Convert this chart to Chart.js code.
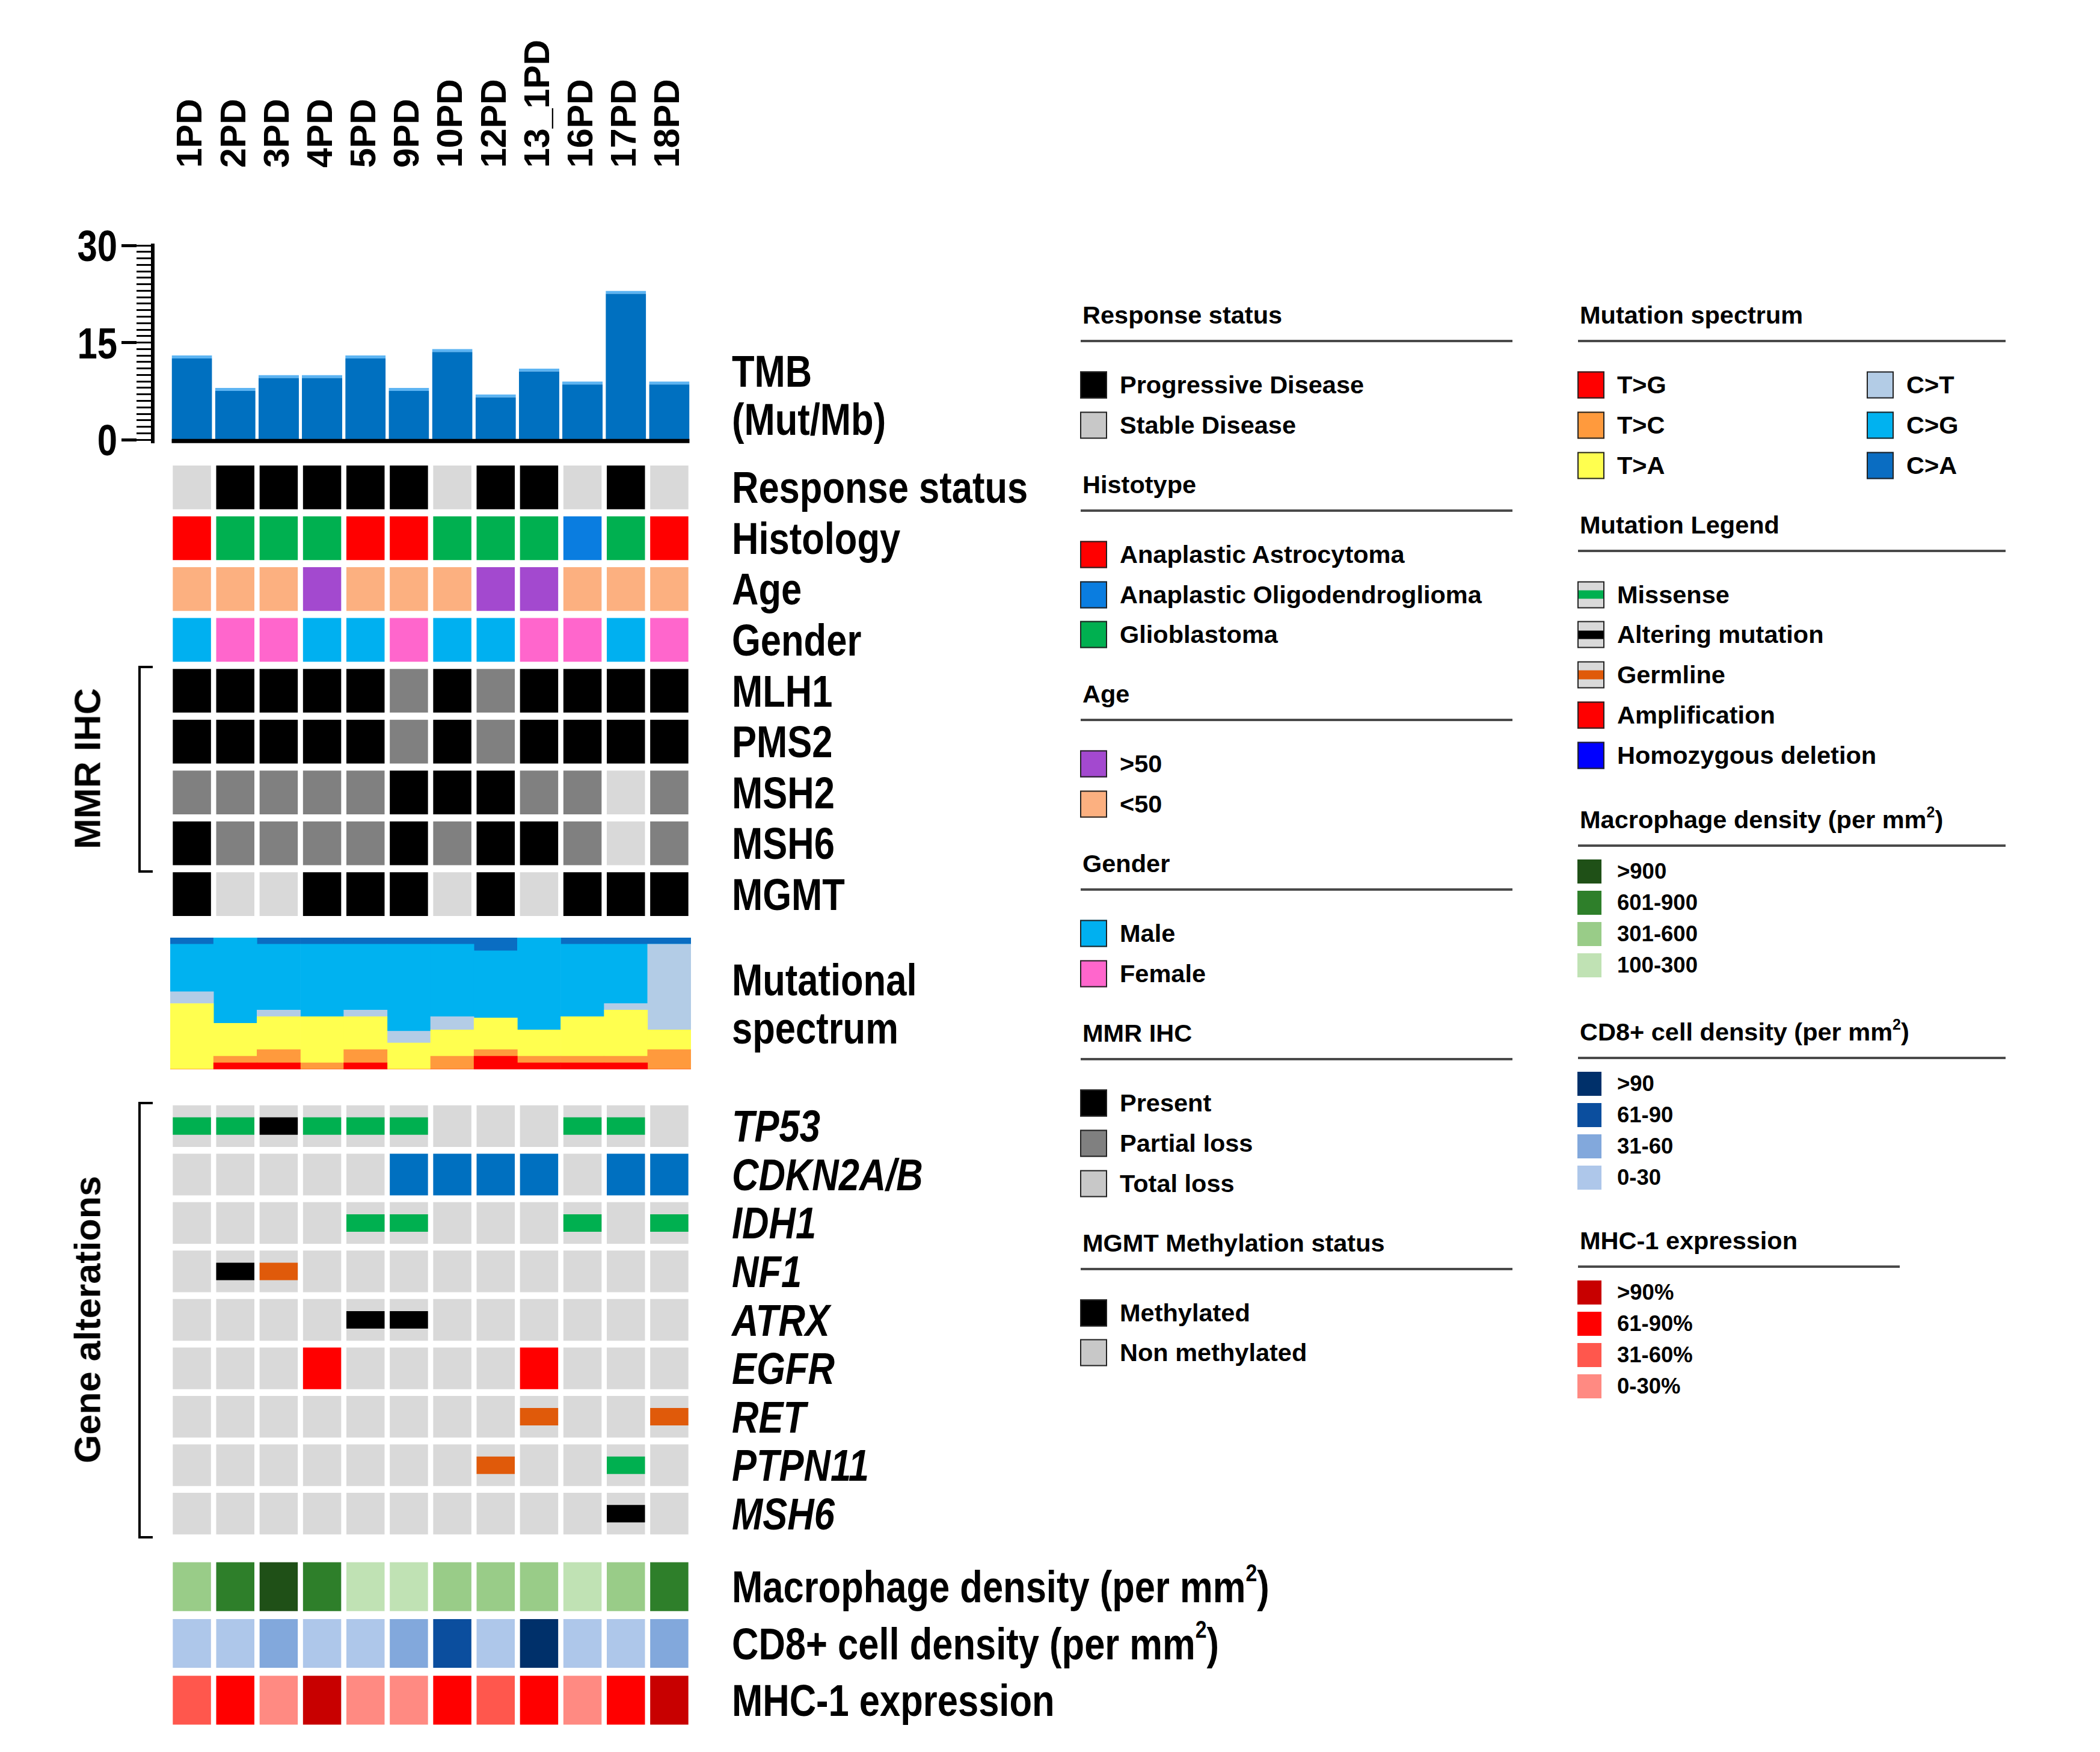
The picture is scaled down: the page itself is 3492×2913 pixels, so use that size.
<!DOCTYPE html>
<html>
<head>
<meta charset="utf-8">
<script src="https://cdn.jsdelivr.net/npm/chart.js@4.4.1/dist/chart.umd.min.js"></script>
<style>
  html, body { margin: 0; padding: 0; background: #fff; }
  body { width: 3492px; height: 2913px; position: relative; overflow: hidden;
         font-family: 'Liberation Sans', Arial, sans-serif; color: #000; }
  canvas { position: absolute; left: 0; }
  .rowlab { position: absolute; font-weight: bold; font-size: 75px; line-height: 1; white-space: nowrap;
            transform: translateY(-50%) scaleX(0.82); transform-origin: 0 50%; }
  .rowlab.it { font-style: italic; }
  .rowlab sup { font-size: 55%; vertical-align: 0; position: relative; top: -0.85em; }
  .ticklab { position: absolute; font-weight: bold; font-size: 73px; line-height: 1; white-space: nowrap;
             transform: translate(-100%, -50%) scaleX(0.82); transform-origin: 100% 50%; }
  .vtitle { position: absolute; font-weight: bold; font-size: 61px; line-height: 1; white-space: nowrap;
            transform: translate(-50%, -50%) rotate(-90deg); }
  .brk { position: absolute; border: 4px solid #000; border-right: none; width: 24px; box-sizing: border-box; }
  .lg { position: absolute; font-weight: bold; font-size: 41.5px; line-height: 1; white-space: nowrap; transform: translateY(-50%); }
  .lg.small { font-size: 36.5px; }
  .lg sup { font-size: 60%; vertical-align: 0; position: relative; top: -0.7em; }
  .lgline { position: absolute; height: 4px; background: #4a4a4a; }
  .sw { position: absolute; width: 45px; height: 45px; border: 2px solid #222; box-sizing: border-box;
        transform: translateY(-50%); overflow: hidden; }
  .sw.flat { width: 40px; height: 40px; border: none; }
  .sw .band { position: absolute; left: 0; right: 0; top: 32%; height: 36%; }
</style>
</head>
<body>
<script>
// ---------------------------------------------------------------------------
// Data
// ---------------------------------------------------------------------------
const samples = ['1PD', '2PD', '3PD', '4PD', '5PD', '9PD', '10PD', '12PD', '13_1PD', '16PD', '17PD', '18PD'];

// TMB (Mut/Mb)
const tmb = [13, 8, 10, 10, 13, 8, 14, 7, 11, 9, 23, 9];
const tmbTickLabels = [0, 15, 30];

// clinical / IHC rows
const clinicalRows = ['Response status', 'Histology', 'Age', 'Gender', 'MLH1', 'PMS2', 'MSH2', 'MSH6', 'MGMT'];
const response  = ['SD', 'PD', 'PD', 'PD', 'PD', 'PD', 'SD', 'PD', 'PD', 'SD', 'PD', 'SD'];
const histology = ['AA', 'GBM', 'GBM', 'GBM', 'AA', 'AA', 'GBM', 'GBM', 'GBM', 'AO', 'GBM', 'AA'];
const age       = ['<50', '<50', '<50', '>50', '<50', '<50', '<50', '>50', '>50', '<50', '<50', '<50'];
const gender    = ['M', 'F', 'F', 'M', 'M', 'F', 'M', 'M', 'F', 'F', 'M', 'F'];
const mlh1      = ['P', 'P', 'P', 'P', 'P', 'PL', 'P', 'PL', 'P', 'P', 'P', 'P'];
const pms2      = ['P', 'P', 'P', 'P', 'P', 'PL', 'P', 'PL', 'P', 'P', 'P', 'P'];
const msh2      = ['PL', 'PL', 'PL', 'PL', 'PL', 'P', 'P', 'P', 'PL', 'PL', 'TL', 'PL'];
const msh6Ihc   = ['P', 'PL', 'PL', 'PL', 'PL', 'P', 'PL', 'P', 'P', 'PL', 'TL', 'PL'];
const mgmt      = ['M', 'U', 'U', 'M', 'M', 'M', 'U', 'M', 'U', 'M', 'M', 'M'];

// mutational spectrum (% of mutations), bottom to top
const spectrumTypes = ['T>G', 'T>C', 'T>A', 'C>T', 'C>G', 'C>A'];
const specTG = [0, 5, 5, 0, 5, 0, 0, 10, 5, 5, 5, 0];
const specTC = [0, 5, 10, 5, 10, 0, 10, 5, 5, 5, 5, 15];
const specTA = [50, 25, 25, 35, 25, 20, 20, 24, 20, 30, 35, 15];
const specCT = [9, 0, 5, 0, 5, 9, 10, 0, 0, 0, 5, 65];
const specCG = [36, 65, 50, 55, 50, 66, 55, 51, 70, 55, 45, 0];
const specCA = [5, 0, 5, 5, 5, 5, 5, 10, 0, 5, 5, 5];

// gene alterations: mis = missense, alt = altering, germ = germline, amp, del
const geneRows = ['TP53', 'CDKN2A/B', 'IDH1', 'NF1', 'ATRX', 'EGFR', 'RET', 'PTPN11', 'MSH6'];
const tp53    = ['mis', 'mis', 'alt', 'mis', 'mis', 'mis', '', '', '', 'mis', 'mis', ''];
const cdkn2ab = ['', '', '', '', '', 'del', 'del', 'del', 'del', '', 'del', 'del'];
const idh1    = ['', '', '', '', 'mis', 'mis', '', '', '', 'mis', '', 'mis'];
const nf1     = ['', 'alt', 'germ', '', '', '', '', '', '', '', '', ''];
const atrx    = ['', '', '', '', 'alt', 'alt', '', '', '', '', '', ''];
const egfr    = ['', '', '', 'amp', '', '', '', '', 'amp', '', '', ''];
const ret     = ['', '', '', '', '', '', '', '', 'germ', '', '', 'germ'];
const ptpn11  = ['', '', '', '', '', '', '', 'germ', '', '', 'mis', ''];
const msh6    = ['', '', '', '', '', '', '', '', '', '', 'alt', ''];

// immune rows
const immuneRows = ['Macrophage density (per mm²)', 'CD8+ cell density (per mm²)', 'MHC-1 expression'];
const macrophage = ['301-600', '601-900', '>900', '601-900', '100-300', '100-300', '301-600', '301-600', '301-600', '100-300', '301-600', '601-900'];
const cd8        = ['0-30', '0-30', '31-60', '0-30', '0-30', '31-60', '61-90', '0-30', '>90', '0-30', '0-30', '31-60'];
const mhc1       = ['31-60%', '61-90%', '0-30%', '>90%', '0-30%', '0-30%', '61-90%', '31-60%', '61-90%', '0-30%', '61-90%', '>90%'];

// ---------------------------------------------------------------------------
// Colours
// ---------------------------------------------------------------------------
const GREY = '#D9D9D9';
const responseColor = { PD: '#000000', SD: GREY };
const histColor = { AA: '#FF0000', AO: '#0A7DE0', GBM: '#00B050' };
const ageColor = { '>50': '#A349CF', '<50': '#FCB080' };
const genderColor = { M: '#00B0F0', F: '#FF66CC' };
const ihcColor = { P: '#000000', PL: '#808080', TL: GREY };
const mgmtColor = { M: '#000000', U: GREY };
const specColors = ['#FF0000', '#FF9A3D', '#FFFF4F', '#B3CCE6', '#00B2F0', '#0A6DC2'];
const fullAltColor = { amp: '#FF0000', del: '#0070C0' };
const bandAltColor = { mis: '#00B050', alt: '#000000', germ: '#E05A0A' };
const macroColor = { '>900': '#1F5017', '601-900': '#2E7F2A', '301-600': '#99CC88', '100-300': '#C0E2B4' };
const cd8Color = { '>90': '#00306A', '61-90': '#0B4E9E', '31-60': '#82A8DC', '0-30': '#AEC7EA' };
const mhcColor = { '>90%': '#C80000', '61-90%': '#FF0000', '31-60%': '#FF574D', '0-30%': '#FF8A82' };

// ---------------------------------------------------------------------------
// Layout (page pixels)
// ---------------------------------------------------------------------------
const HEAT_LEFT = 283, HEAT_RIGHT = 1149, LABEL_GAP = 68;
const TMB_TOP = 408, TMB_ZERO = 731, AXIS_X = 254;
const CLIN_TOP = 768, CLIN_BOTTOM = 1529;
const SPEC_TOP = 1559, SPEC_BOTTOM = 1778;
const GENE_TOP = 1832, GENE_BOTTOM = 2557;
const IMM_TOP = 2591, IMM_BOTTOM = 2874;
const CELL = 0.43, BAND = 0.18, COL_FILL = 0.88;
const MINOR_LEN = 27, MAJOR_LEN = 25, MAJOR_W = 110;

const ARIAL = "'Liberation Sans', Arial, sans-serif";

Chart.defaults.animation = false;
Chart.defaults.responsive = false;
Chart.defaults.plugins.legend.display = false;
Chart.defaults.plugins.tooltip.enabled = false;
Chart.defaults.color = '#000';

function makeCanvas(top, width, height) {
  const c = document.createElement('canvas');
  c.width = width; c.height = height;
  c.style.top = top + 'px';
  c.style.width = width + 'px';
  c.style.height = height + 'px';
  document.body.appendChild(c);
  return c;
}

function el(cls, html, style) {
  const d = document.createElement('div');
  d.className = cls;
  if (html !== null) d.innerHTML = html;
  Object.assign(d.style, style);
  document.body.appendChild(d);
  return d;
}
const esc = s => s.replace(/&/g, '&amp;').replace(/</g, '&lt;').replace(/>/g, '&gt;');

// ---------------------------------------------------------------------------
// 1. TMB bar chart with sample names on top
// ---------------------------------------------------------------------------
const colPitch = (HEAT_RIGHT - HEAT_LEFT) / samples.length;
const xMin = -0.5 - (HEAT_LEFT - AXIS_X) / colPitch;
const xMax = samples.length - 0.5;
const yMin = -0.45;
const tmbBottom = TMB_ZERO + (-yMin) * (TMB_ZERO - TMB_TOP) / 30;
const integerTicks = s => { s.ticks = samples.map((_, i) => ({ value: i })); };
const BAR_PCT = 0.93;

const baselinePlugin = {
  id: 'baseline',
  afterDatasetsDraw(chart) {
    const { ctx, scales: { x, y } } = chart;
    const yy = y.getPixelForValue(0) + 2;
    ctx.save();
    ctx.strokeStyle = '#000';
    ctx.lineWidth = 7;
    ctx.beginPath();
    ctx.moveTo(x.getPixelForValue(-0.5 + (1 - BAR_PCT) / 2), yy);
    ctx.lineTo(x.getPixelForValue(samples.length - 0.5 - (1 - BAR_PCT) / 2), yy);
    ctx.stroke();
    ctx.restore();
  }
};

const SAMPLE_FONT = 59;
const tmbCanvas = makeCanvas(0, 1200, Math.round(tmbBottom) + 10);
const tmbChart = new Chart(tmbCanvas, {
  type: 'bar',
  data: {
    datasets: [{
      label: 'TMB',
      data: tmb.map((v, i) => ({ x: i, y: v })),
      backgroundColor: '#0070C0',
      borderColor: '#5DB4F2',
      borderWidth: { top: 5, left: 0, right: 0, bottom: 0 },
      borderSkipped: 'bottom',
      barPercentage: BAR_PCT,
      categoryPercentage: 1
    }]
  },
  plugins: [baselinePlugin],
  options: {
    devicePixelRatio: 1,
    layout: { padding: { left: AXIS_X - MINOR_LEN - MAJOR_W, top: 20, right: 1200 - HEAT_RIGHT, bottom: 10 } },
    scales: {
      x: { type: 'linear', offset: false, min: xMin, max: xMax, display: false, afterBuildTicks: integerTicks },
      xTop: {
        type: 'linear', position: 'top', offset: false, min: xMin, max: xMax,
        afterBuildTicks: integerTicks,
        grid: { display: false, drawTicks: false },
        border: { display: false },
        ticks: {
          autoSkip: false, minRotation: 90, maxRotation: 90, padding: 129,
          labelOffset: SAMPLE_FONT,
          font: { family: ARIAL, weight: 'bold', size: SAMPLE_FONT, lineHeight: 1 },
          callback: v => samples[v]
        },
        afterFit: s => { s.height = TMB_TOP - 20; s.paddingLeft = 0; s.paddingRight = 0; }
      },
      y: {
        position: 'left', weight: 0, min: yMin, max: 30,
        afterBuildTicks: s => { s.ticks = []; for (let v = 0; v <= 30; v++) s.ticks.push({ value: v }); },
        ticks: { display: false },
        grid: { drawOnChartArea: false, drawTicks: true, tickLength: MINOR_LEN, tickWidth: 3, color: '#000' },
        border: { display: true, color: '#000', width: 6 },
        afterFit: s => { s.width = MINOR_LEN; s.paddingTop = 0; s.paddingBottom = 0; }
      },
      yMajor: {
        axis: 'y', position: 'left', weight: 1, min: yMin, max: 30,
        afterBuildTicks: s => { s.ticks = tmbTickLabels.map(v => ({ value: v })); },
        ticks: { display: false },
        grid: { drawOnChartArea: false, drawTicks: true, tickLength: MAJOR_LEN, tickWidth: 5, color: '#000' },
        border: { display: false },
        afterFit: s => { s.width = MAJOR_W; s.paddingTop = 0; s.paddingBottom = 0; }
      }
    }
  }
});

// tick labels of the TMB axis, placed from the scale
(function () {
  const s = tmbChart.scales.yMajor;
  tmbTickLabels.forEach(v => {
    el('ticklab', String(v), { left: (s.right - MAJOR_LEN - 7) + 'px', top: s.getPixelForValue(v) + 'px' });
  });
})();

// ---------------------------------------------------------------------------
// Heatmap helper: one floating bar per cell, rows on a linear y axis
// ---------------------------------------------------------------------------
function cellRow(r, colors, half, order) {
  return {
    data: samples.map((_, i) => colors[i] === null ? null : [r - half, r + half]),
    backgroundColor: colors.map(c => c || 'rgba(0,0,0,0)'),
    grouped: false,
    order: order || 0,
    barPercentage: COL_FILL,
    categoryPercentage: 1
  };
}

function heatmap(top, bottom, rowLabels, datasets, italic) {
  const PAD = 12;
  const canvasTop = top - PAD;
  const canvas = makeCanvas(canvasTop, HEAT_RIGHT + 40, bottom - top + 2 * PAD);
  const chart = new Chart(canvas, {
    type: 'bar',
    data: { labels: samples, datasets },
    options: {
      devicePixelRatio: 1,
      layout: { padding: { left: HEAT_LEFT, top: PAD, bottom: PAD, right: 0 } },
      scales: {
        x: { display: false, offset: true },
        y: {
          position: 'right', min: -0.5, max: rowLabels.length - 0.5, reverse: true,
          grid: { display: false, drawTicks: false },
          border: { display: false },
          ticks: { display: false },
          afterBuildTicks: s => { s.ticks = rowLabels.map((_, i) => ({ value: i })); },
          afterFit: s => { s.width = 40; s.paddingTop = 0; s.paddingBottom = 0; }
        }
      }
    }
  });
  // row names, placed at the row centres of the y scale
  rowLabels.forEach((t, i) => {
    el('rowlab' + (italic ? ' it' : ''), esc(t).replace('²', '<sup>2</sup>'), {
      left: (chart.chartArea.right + LABEL_GAP) + 'px',
      top: (canvasTop + chart.scales.y.getPixelForValue(i)) + 'px'
    });
  });
  return chart;
}

// 2. clinical + IHC rows
const clinicalValues = [
  response.map(v => responseColor[v]),
  histology.map(v => histColor[v]),
  age.map(v => ageColor[v]),
  gender.map(v => genderColor[v]),
  mlh1.map(v => ihcColor[v]),
  pms2.map(v => ihcColor[v]),
  msh2.map(v => ihcColor[v]),
  msh6Ihc.map(v => ihcColor[v]),
  mgmt.map(v => mgmtColor[v])
];
heatmap(CLIN_TOP, CLIN_BOTTOM, clinicalRows,
  clinicalValues.map((colors, r) => cellRow(r, colors, CELL)));

// 3. mutational spectrum (100% stacked)
const specSeries = [specTG, specTC, specTA, specCT, specCG, specCA];
(function () {
  const PAD = 12;
  const canvasTop = SPEC_TOP - PAD;
  const canvas = makeCanvas(canvasTop, HEAT_RIGHT + 40, SPEC_BOTTOM - SPEC_TOP + 2 * PAD);
  const chart = new Chart(canvas, {
    type: 'bar',
    data: {
      labels: samples,
      datasets: spectrumTypes.map((t, k) => ({
        label: t, data: specSeries[k], backgroundColor: specColors[k],
        barPercentage: 1, categoryPercentage: 1
      }))
    },
    options: {
      devicePixelRatio: 1,
      layout: { padding: { left: HEAT_LEFT, top: PAD, bottom: PAD, right: 0 } },
      scales: {
        x: { display: false, stacked: true },
        y: {
          stacked: true, position: 'right', min: 0, max: 100,
          grid: { display: false, drawTicks: false },
          border: { display: false },
          ticks: { display: false },
          afterFit: s => { s.width = 40; s.paddingTop = 0; s.paddingBottom = 0; }
        }
      }
    }
  });
  el('rowlab', 'Mutational<br>spectrum', {
    left: (chart.chartArea.right + LABEL_GAP) + 'px',
    top: (canvasTop + chart.scales.y.getPixelForValue(50)) + 'px',
    lineHeight: '1.07'
  });
})();

// 4. gene alterations: grey cell (or full colour for amp/del) + centred band on top
const geneValues = [tp53, cdkn2ab, idh1, nf1, atrx, egfr, ret, ptpn11, msh6];
const geneDatasets = [];
geneValues.forEach((vals, r) => {
  geneDatasets.push(cellRow(r, vals.map(v => fullAltColor[v] || GREY), CELL, 1));
  geneDatasets.push(cellRow(r, vals.map(v => bandAltColor[v] || null), BAND, 0));
});
heatmap(GENE_TOP, GENE_BOTTOM, geneRows, geneDatasets, true);

// 5. immune rows
const immuneValues = [
  macrophage.map(v => macroColor[v]),
  cd8.map(v => cd8Color[v]),
  mhc1.map(v => mhcColor[v])
];
heatmap(IMM_TOP, IMM_BOTTOM, immuneRows,
  immuneValues.map((colors, r) => cellRow(r, colors, CELL)));

// ---------------------------------------------------------------------------
// Labels, brackets and legends (HTML)
// ---------------------------------------------------------------------------
el('rowlab', 'TMB', { left: (HEAT_RIGHT + LABEL_GAP) + 'px', top: '617px' });
el('rowlab', '(Mut/Mb)', { left: (HEAT_RIGHT + LABEL_GAP) + 'px', top: '697px' });

el('vtitle', 'MMR IHC', { left: '146px', top: '1278px' });
el('brk', null, { left: '230px', top: '1107px', height: '344px' });
el('vtitle', 'Gene alterations', { left: '146px', top: '2194px' });
el('brk', null, { left: '230px', top: '1832px', height: '726px' });

function swatch(x, y, color, kind) {
  if (kind === 'band') {
    const s = el('sw', null, { left: x + 'px', top: y + 'px', background: GREY });
    s.appendChild(el('band', null, { background: color }));
  } else if (kind === 'flat') {
    el('sw flat', null, { left: x + 'px', top: y + 'px', background: color });
  } else {
    el('sw', null, { left: x + 'px', top: y + 'px', background: color });
  }
}

function legendColumn(col, sections) {
  let y = 524;
  sections.forEach(sec => {
    el('lg', sec.title, { left: (col.x + 3) + 'px', top: y + 'px' });
    el('lgline', null, { left: col.x + 'px', top: (y + 41) + 'px', width: (sec.lineW || col.lineW) + 'px' });
    const flat = sec.kind === 'flat';
    const first = y + (flat ? 86 : 116);
    const step = flat ? 52 : 66.8;
    let last = first;
    (sec.groups || [sec.items]).forEach((items, g) => {
      const sx = col.x - 1 + g * 481;
      items.forEach((it, j) => {
        const iy = first + j * step;
        last = Math.max(last, iy);
        swatch(sx, iy, it[1], it[2] || sec.kind);
        el(flat ? 'lg small' : 'lg', esc(it[0]), { left: (sx + 66) + 'px', top: iy + 'px' });
      });
    });
    y = last + (sec.gapAfter || 99);
  });
}

legendColumn({ x: 1797, lineW: 718 }, [
  { title: 'Response status', items: [['Progressive Disease', '#000000'], ['Stable Disease', '#C8C8C8']] },
  { title: 'Histotype', items: [['Anaplastic Astrocytoma', histColor.AA], ['Anaplastic Oligodendroglioma', histColor.AO], ['Glioblastoma', histColor.GBM]] },
  { title: 'Age', items: [['>50', ageColor['>50']], ['<50', ageColor['<50']]] },
  { title: 'Gender', items: [['Male', genderColor.M], ['Female', genderColor.F]] },
  { title: 'MMR IHC', items: [['Present', '#000000'], ['Partial loss', '#808080'], ['Total loss', '#C8C8C8']] },
  { title: 'MGMT Methylation status', items: [['Methylated', '#000000'], ['Non methylated', '#C8C8C8']] }
]);

legendColumn({ x: 2624, lineW: 711 }, [
  { title: 'Mutation spectrum', groups: [
      [['T>G', specColors[0]], ['T>C', specColors[1]], ['T>A', specColors[2]]],
      [['C>T', specColors[3]], ['C>G', specColors[4]], ['C>A', specColors[5]]]
    ] },
  { title: 'Mutation Legend', gapAfter: 107, items: [
      ['Missense', bandAltColor.mis, 'band'], ['Altering mutation', bandAltColor.alt, 'band'],
      ['Germline', bandAltColor.germ, 'band'], ['Amplification', '#FF0000'], ['Homozygous deletion', '#0000FF']
    ] },
  { title: 'Macrophage density (per mm<sup>2</sup>)', kind: 'flat', gapAfter: 111, items: [
      ['>900', macroColor['>900']], ['601-900', macroColor['601-900']], ['301-600', macroColor['301-600']], ['100-300', macroColor['100-300']]
    ] },
  { title: 'CD8+ cell density (per mm<sup>2</sup>)', kind: 'flat', gapAfter: 105, items: [
      ['>90', cd8Color['>90']], ['61-90', cd8Color['61-90']], ['31-60', cd8Color['31-60']], ['0-30', cd8Color['0-30']]
    ] },
  { title: 'MHC-1 expression', kind: 'flat', lineW: 535, items: [
      ['>90%', mhcColor['>90%']], ['61-90%', mhcColor['61-90%']], ['31-60%', mhcColor['31-60%']], ['0-30%', mhcColor['0-30%']]
    ] }
]);
</script>
</body>
</html>
